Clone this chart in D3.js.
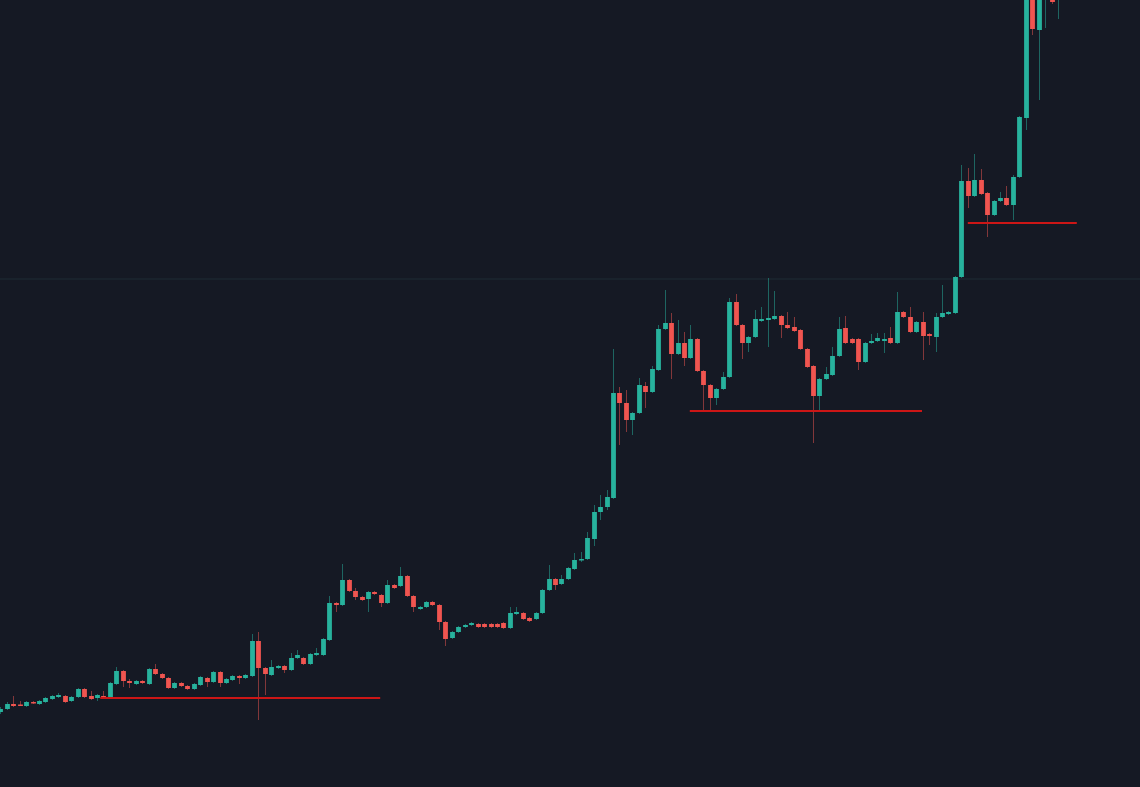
<!DOCTYPE html>
<html><head><meta charset="utf-8">
<script src="https://cdn.jsdelivr.net/npm/d3@7"></script>
<style>html,body{margin:0;padding:0;background:#151924;overflow:hidden}</style>
</head><body>
<svg id="chart" width="1140" height="787"></svg>
<script>
// OHLC series (price units), one entry per candle
const opens = [288,291,296,295.5,294,298,296,298,301,303,304,299,303,311,304,302,304,303,316,329,319,316,319,316,331,326,322,312,317,314,311,315,322,318,328,317,320,324,322,324,359,332,325,332,334,330,342,342,336,345,345,360,397,395,420,409,403,401,408,405,397,415,414,424,404,391,393,398,395,378,362,368,373,375,376,376,376,376,377,372,386,387,382,381,387,410,421,416,421,431,440,441,461,488,493,502,607,597,580,587,614,608,630,671,677,646,657,642,661,629,615,602,611,623,698,675,657,663,679,680,681,684,675,673,670,651,634,604,621,625,644,672,661,661,638,657,659,659,662,657,688,683,668,678,666,663,683,686,687,723,819,804,820,807,785,799,802,795,823,882,1025,970,1005,1020,1003];
const highs = [293,298,304,299,299,299,300,303,305,307,305,304,312,312,309,306,309,318,333,330,321,320,320,332,336,327,323,318,318,315,317,324,323,329,329,322,325,325,326,366,368,333,340,335,335,347,350,343,347,352,362,404,398,436,421,412,404,409,409,406,420,416,433,425,405,394,399,399,396,379,369,374,376,378,377,377,377,377,378,393,393,388,383,388,411,435,422,425,433,447,448,468,495,505,510,651,613,610,588,622,618,634,675,710,687,680,668,675,662,630,616,612,628,702,706,676,664,690,693,722,709,685,688,683,671,652,635,622,633,653,683,684,662,662,658,666,667,667,673,708,689,693,679,688,667,687,715,689,724,835,832,846,831,808,800,808,814,825,884,1040,1035,1030,1050,1030,1045];
const lows = [286,290,293,294,293,296,295,297,300,302,297,298,302,302,300,299,301,302,315,313,312,315,316,315,325,321,311,311,313,310,310,314,313,317,313,316,319,316,321,323,280,305,324,331,327,329,341,335,335,344,344,359,388,394,408,400,399,388,405,393,396,411,413,403,388,390,392,394,370,354,361,367,372,374,372,372,372,372,371,371,385,380,378,380,386,409,410,415,420,430,438,440,454,480,490,501,555,568,565,586,592,607,629,670,621,645,634,641,628,590,589,595,610,622,674,641,648,662,678,653,680,662,671,668,650,632,557,590,620,624,643,656,656,630,637,656,658,647,656,656,682,667,667,640,655,648,682,685,686,722,792,803,805,763,784,798,794,780,822,870,965,900,972,996,981];
const closes = [291,296,294,294.5,298,296.5,299,302,304,305,298,303,311,303,301,305,302,317,329,319,317,319,317,331,326,322,312,317,314,311,316,323,318,328,317,321,324,322,325,359,332,326,333,334,330,342,345,336,346,347,361,397,395,420,409,403,400,408,406,397,415,412,424,404,393,393,398,395,378,361,368,373,375,377,373,373,373,373,372,387,388,381,379,387,410,421,415,421,432,440,441,462,488,493,503,607,597,580,587,615,608,631,671,677,646,657,642,661,629,615,602,611,623,698,675,657,663,681,681,682,684,675,672,669,651,633,604,621,626,644,671,657,657,638,657,659,662,661,657,688,683,668,678,664,664,683,687,688,723,819,804,820,806,785,799,802,795,823,883,1030,971,1020,1040,998,1040];

// horizontal reference levels
const gridLevels = [721];
// support lines: [start candle index, end candle index, price level]
const supportStart = [15.5, 106.9, 150.0];
const supportEnd   = [58.9, 142.9, 166.9];
const supportLevel = [302, 589, 777];

const W = 1140, H = 787;
const svg = d3.select('#chart');
svg.append('rect').attr('width', W).attr('height', H).attr('fill', '#151924');

const n = opens.length;
const x = d3.scaleLinear().domain([0, n - 1]).range([0.3, 1058.1]);
const y = d3.scaleLinear().domain([213, 1000]).range([H, 0]);

const data = d3.range(n).map(i => ({i, o: opens[i], h: highs[i], l: lows[i], c: closes[i]}));

const up = '#27b29d', down = '#f05550';
const bodyW = 4.8;

const g = svg.append('g');

g.selectAll('line.grid').data(gridLevels).join('line')
  .attr('x1', 0).attr('x2', W)
  .attr('y1', d => y(d)).attr('y2', d => y(d))
  .attr('stroke', '#1f2d35').attr('stroke-width', 1);

g.selectAll('line.wick').data(data).join('line')
  .attr('x1', d => Math.round(x(d.i)) + 0.5).attr('x2', d => Math.round(x(d.i)) + 0.5)
  .attr('y1', d => y(d.h)).attr('y2', d => y(d.l))
  .attr('stroke', d => d.c >= d.o ? up : down)
  .attr('stroke-opacity', 0.5)
  .attr('stroke-width', 1);

g.selectAll('rect.body').data(data).join('rect')
  .attr('x', d => Math.round(x(d.i)) + 0.5 - bodyW / 2)
  .attr('width', bodyW)
  .attr('y', d => y(Math.max(d.o, d.c)))
  .attr('height', d => Math.max(1.5, Math.abs(y(d.o) - y(d.c))))
  .attr('fill', d => d.c >= d.o ? up : down);

g.selectAll('line.support').data(supportLevel).join('line')
  .attr('x1', (d, k) => x(supportStart[k])).attr('x2', (d, k) => x(supportEnd[k]))
  .attr('y1', d => y(d)).attr('y2', d => y(d))
  .attr('stroke', '#cc1616').attr('stroke-width', 2);
</script>
</body></html>
